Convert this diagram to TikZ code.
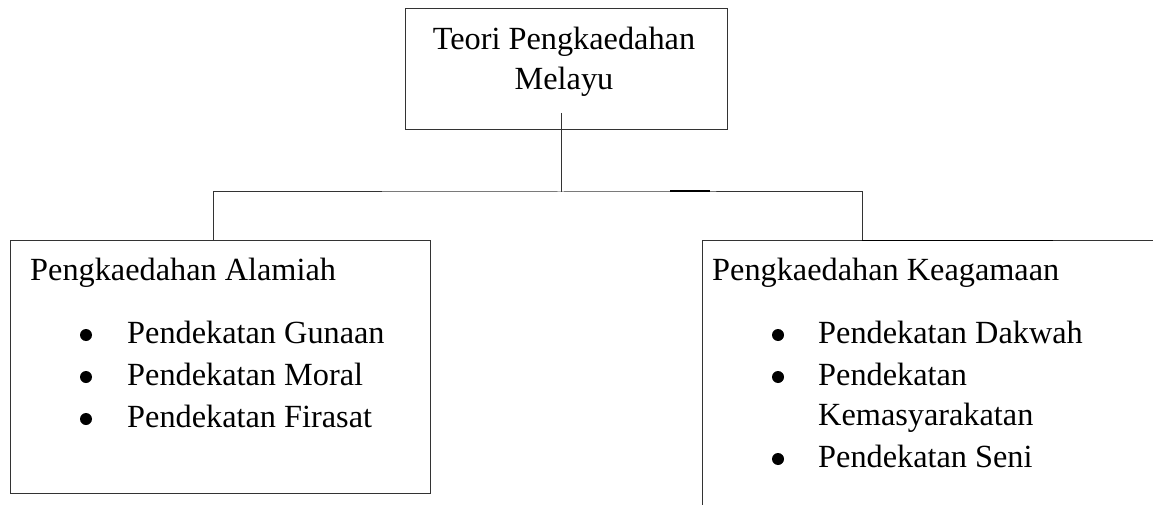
\documentclass[tikz,border=0pt]{standalone}
\usepackage{fontspec}
\setmainfont{Liberation Serif}
\usetikzlibrary{fit}

\begin{document}
\begin{tikzpicture}[x=1pt,y=-1pt]
	\tikzstyle{box}=[draw=black!80, line width=1pt, inner sep=0pt]
	\tikzstyle{link}=[draw=black!80, line width=1pt]
	\tikzstyle{mark_line}=[draw=black, line width=1.6pt]
	\tikzstyle{txt}=[inner sep=0pt, anchor=base west, font=\fontsize{32.3}{40}\selectfont]
	\tikzstyle{txt_mid}=[txt, anchor=base]
	\tikzstyle{dot}=[circle, fill=black, inner sep=0pt, minimum size=12pt]

	\useasboundingbox (0,0) rectangle (1153,505);
	\clip (0,0) rectangle (1153,505);

	% boxes
	\node (teori) [box, fit={(405,9) (727,130)}] {};
	\node (alamiah) [box, fit={(10,240) (430,493)}] {};
	\node (agama) [box, fit={(702,240) (1175,525)}] {};

	% top title
	\node (teori1) [txt_mid] at (564,50) {Teori Pengkaedahan};
	\node (teori2) [txt_mid] at (564,90) {Melayu};

	% left list
	\node (alamiahT) [txt] at (30,280) {Pengkaedahan Alamiah};
	\foreach \y/\item [count=\i] in {343/Pendekatan Gunaan, 385/Pendekatan Moral, 427/Pendekatan Firasat} {
		\node (alamiahB\i) [dot] at (86,\y-8) {};
		\node (alamiah\i) [txt] at (127,\y) {\item};
	}

	% right list
	\node (agamaT) [txt] at (712,280) {Pengkaedahan Keagamaan};
	\foreach \y/\item [count=\i] in {343/Pendekatan Dakwah, 385/Pendekatan, 467/Pendekatan Seni} {
		\node (agamaB\i) [dot] at (778,\y-8) {};
		\node (agama\i) [txt] at (818,\y) {\item};
	}
	\node (agama4) [txt] at (818,425) {Kemasyarakatan};

	% connectors
	\coordinate (stem) at (561,113);
	\coordinate (fork) at (561,192);
	\coordinate (dropL) at (213,240);
	\coordinate (dropR) at (862,240);
	\draw [link] (stem) -- (fork);
	\draw [link] (dropL) |- (fork) -| (dropR);

	% short heavier strokes
	\draw [mark_line] (670,191) -- (710,191);
	\draw [mark_line] (862,240.5) -- (1053,240.5);
\end{tikzpicture}
\end{document}
